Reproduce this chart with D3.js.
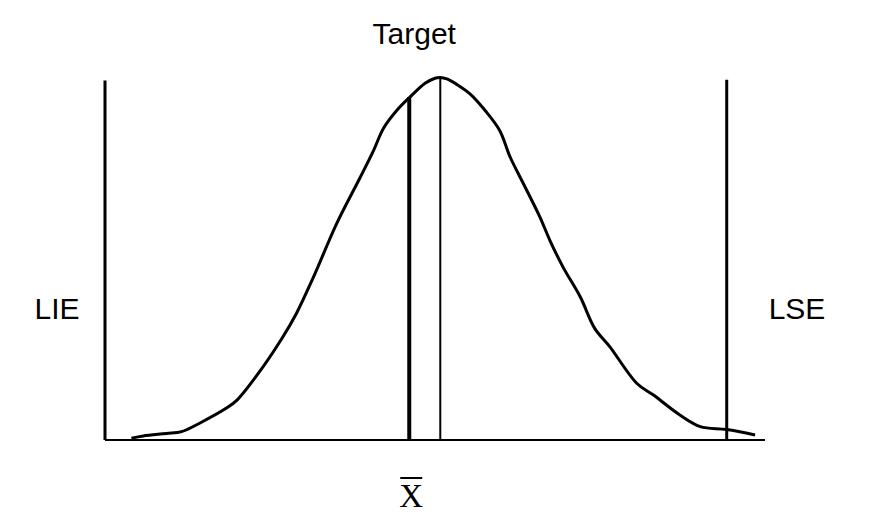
<!DOCTYPE html>
<html>
<head>
<meta charset="utf-8">
<script src="https://cdn.jsdelivr.net/npm/d3@7"></script>
<style>
  html, body { margin: 0; padding: 0; background: #fff; }
  svg { display: block; }
</style>
</head>
<body>
<svg id="chart" width="873" height="514"></svg>
<script>
// Process distribution: measurement position (0–100) vs relative frequency (peak = 1)
const curveX = [4.0, 5.8, 9.3, 11.6, 14.4, 18.4, 20.0, 23.0, 26.8, 29.0, 31.6, 35.1, 38.6, 40.7, 42.2, 44.2, 46.2, 48.5, 50.0, 50.8, 51.8, 53.3, 55.3, 57.6, 59.8, 61.4, 63.4, 65.9, 67.4, 69.4, 72.0, 74.2, 76.5, 80.6, 83.1, 87.1, 90.2, 94.2, 98.5];
const curveY = [0.005, 0.011, 0.018, 0.023, 0.047, 0.088, 0.110, 0.178, 0.280, 0.349, 0.450, 0.597, 0.722, 0.799, 0.860, 0.909, 0.946, 0.984, 0.998, 1.000, 0.996, 0.981, 0.955, 0.909, 0.854, 0.780, 0.707, 0.615, 0.551, 0.477, 0.395, 0.308, 0.257, 0.156, 0.124, 0.069, 0.037, 0.029, 0.014];

// Reference markers: position and drawn height
const markerNames = ["LIE", "LSE", "Target", "Xbar"];
const markerPos = [0, 94.2, 50.8, 46.1];
const markerTop = [0.992, 0.994, 1.0, 0.946];

const svg = d3.select("#chart");
const x = d3.scaleLinear().domain([0, 100]).range([105, 765]);
const y = d3.scaleLinear().domain([0, 1]).range([440, 77.5]);

const pts = curveX.map((v, i) => ({ x: v, y: curveY[i] }));

// baseline
svg.append("line")
  .attr("x1", x(0)).attr("x2", x(100))
  .attr("y1", y(0)).attr("y2", y(0))
  .attr("stroke", "#000").attr("stroke-width", 2);

// distribution curve
svg.append("path")
  .datum(pts)
  .attr("fill", "none")
  .attr("stroke", "#000")
  .attr("stroke-width", 3)
  .attr("stroke-linejoin", "round")
  .attr("d", d3.line().x(d => x(d.x)).y(d => y(d.y)).curve(d3.curveCatmullRom.alpha(0.5)));

// vertical markers
const widths = { LIE: 3, LSE: 3, Target: 2, Xbar: 4 };
markerNames.forEach((name, i) => {
  svg.append("line")
    .attr("x1", x(markerPos[i])).attr("x2", x(markerPos[i]))
    .attr("y1", y(0)).attr("y2", y(markerTop[i]))
    .attr("stroke", "#000")
    .attr("stroke-width", widths[name]);
});

// labels
const sans = "'Liberation Sans', Arial, sans-serif";
svg.append("text")
  .attr("x", x(markerPos[2]) - 26).attr("y", 44)
  .attr("text-anchor", "middle")
  .attr("font-family", sans).attr("font-size", 30)
  .text("Target");

svg.append("text")
  .attr("x", 57).attr("y", 319)
  .attr("text-anchor", "middle")
  .attr("font-family", sans).attr("font-size", 30)
  .text("LIE");

svg.append("text")
  .attr("x", 797).attr("y", 319)
  .attr("text-anchor", "middle")
  .attr("font-family", sans).attr("font-size", 30)
  .text("LSE");

// X-bar label under the mean line
const xbarX = x(markerPos[3]) + 2;
svg.append("text")
  .attr("x", xbarX).attr("y", 507)
  .attr("text-anchor", "middle")
  .attr("font-family", "'Liberation Serif', 'Times New Roman', serif")
  .attr("font-size", 33)
  .text("X");
svg.append("line")
  .attr("x1", xbarX - 11).attr("x2", xbarX + 11)
  .attr("y1", 478).attr("y2", 478)
  .attr("stroke", "#000").attr("stroke-width", 2);
</script>
</body>
</html>
